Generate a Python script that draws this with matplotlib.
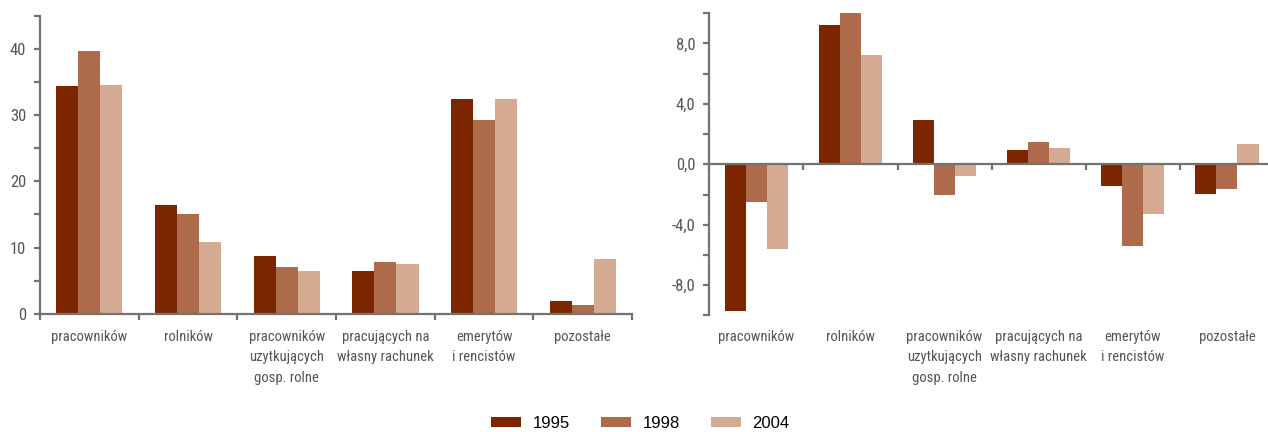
import numpy as np
import matplotlib
matplotlib.use("Agg")
import matplotlib.pyplot as plt
from matplotlib import font_manager
from matplotlib.patches import Patch
from matplotlib.transforms import blended_transform_factory

# ==============================================================
# DATA
# ==============================================================

categories = [
    "pracowników",
    "rolników",
    "pracowników\nuzytkujących\ngosp. rolne",
    "pracujących na\nwłasny rachunek",
    "emerytów\ni rencistów",
    "pozostałe",
]
years = ["1995", "1998", "2004"]

# left panel: share (%)
left_1995 = [34.4, 16.4, 8.7, 6.4, 32.4, 1.9]
left_1998 = [39.7, 15.0, 7.0, 7.8, 29.3, 1.3]
left_2004 = [34.6, 10.8, 6.4, 7.5, 32.4, 8.2]

# right panel: change
right_1995 = [-9.7, 9.2, 2.9, 0.95, -1.45, -1.95]
right_1998 = [-2.5, 10.0, -2.0, 1.5, -5.4, -1.65]
right_2004 = [-5.6, 7.2, -0.8, 1.1, -3.3, 1.35]

colors = ["#7c2600", "#ad6b4b", "#d5aa92"]

# ==============================================================
# STYLE
# ==============================================================

installed = {f.name for f in font_manager.fontManager.ttflist}
narrow = next((n for n in ["Liberation Sans Narrow", "Roboto Condensed",
                           "Open Sans Condensed", "Noto Sans Display"]
               if n in installed), "Liberation Sans")
plt.rcParams["font.family"] = [narrow, "DejaVu Sans"]

axis_col = "#737373"
text_col = "#555555"

fig = plt.figure(figsize=(12.68, 4.32), dpi=100)
ax1 = fig.add_axes([0.03155, 0.2738, 0.4669, 0.6894])
ax2 = fig.add_axes([0.5594, 0.2697, 0.4453, 0.7000])

x = np.arange(len(categories))
w = 0.224
label_y = 0.237   # top of category labels (figure fraction)


def draw_bars(ax, series):
    for i, (vals, c) in enumerate(zip(series, colors)):
        ax.bar(x + (i - 1) * w, vals, width=w, color=c, linewidth=0)


def style_axis(ax):
    for s in ["top", "right"]:
        ax.spines[s].set_visible(False)
    for s in ["left", "bottom"]:
        ax.spines[s].set_color(axis_col)
        ax.spines[s].set_linewidth(1.6)
    ax.tick_params(axis="y", colors=axis_col, labelcolor=text_col,
                   length=4, width=1.6, labelsize=12, pad=6)
    ax.set_xlim(-0.5, len(categories) - 0.5)
    ax.set_xticks(np.arange(len(categories) + 1) - 0.5, minor=True)
    ax.set_xticks([])
    ax.tick_params(axis="x", which="minor", colors=axis_col,
                   length=4, width=1.6)
    tr = blended_transform_factory(ax.transData, fig.transFigure)
    for i, lab in enumerate(categories):
        ax.text(i, label_y, lab, transform=tr, ha="center", va="top",
                fontsize=10.5, color=text_col, linespacing=1.6)


# ---------- left panel ----------
draw_bars(ax1, [left_1995, left_1998, left_2004])
style_axis(ax1)
ax1.set_ylim(0, 45)
ax1.set_yticks(np.arange(0, 46, 5))
ax1.set_yticklabels([str(v) if v % 10 == 0 else "" for v in range(0, 46, 5)])

# ---------- right panel ----------
draw_bars(ax2, [right_1995, right_1998, right_2004])
style_axis(ax2)
ax2.set_ylim(-10, 10)
ax2.spines["bottom"].set_position(("data", 0))
yt = np.arange(-10, 11, 2)
ax2.set_yticks(yt)
ax2.set_yticklabels([f"{v:.1f}".replace(".", ",") if v % 4 == 0 else "" for v in yt])

# ---------- legend ----------
handles = [Patch(facecolor=c, edgecolor="none") for c in colors]
fig.legend(handles, years, loc="center", ncol=3, frameon=False,
           bbox_to_anchor=(0.505, 0.02), handlelength=1.8,
           handleheight=0.55, columnspacing=1.9, handletextpad=0.66,
           prop={"family": ["Liberation Sans", "DejaVu Sans"], "size": 12})

fig.savefig("out.png", dpi=100)
